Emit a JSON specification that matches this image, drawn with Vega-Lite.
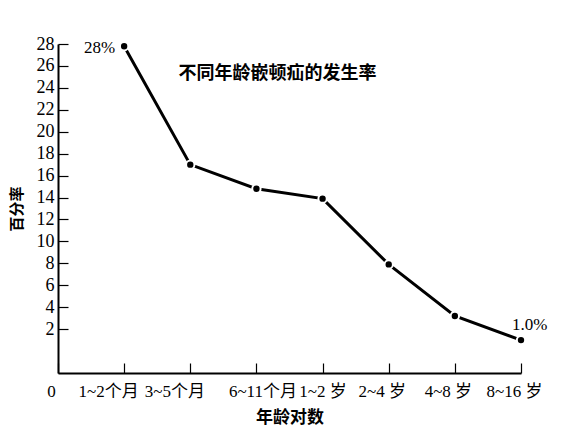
{
  "$schema": "https://vega.github.io/schema/vega-lite/v6.json",
  "width": 463,
  "height": 329,
  "autosize": {"type": "none"},
  "padding": {"left": 58, "top": 44, "right": 62, "bottom": 58},
  "background": "white",
  "config": {
    "view": {"stroke": null},
    "font": "'Liberation Serif', 'Noto Sans CJK SC', serif",
    "axis": {"grid": false, "domainColor": "black", "domainWidth": 2, "tickColor": "black", "tickWidth": 1.2, "labelColor": "black", "titleColor": "black", "labelFont": "'Liberation Serif', 'Noto Sans CJK SC', serif", "titleFont": "'Noto Sans CJK SC'"}
  },
  "datasets": {
    "rates": [
      {"i": 1, "group": "1~2个月", "rate": 27.8, "note": "28%"},
      {"i": 2, "group": "3~5个月", "rate": 17.0, "note": ""},
      {"i": 3, "group": "6~11个月", "rate": 14.8, "note": ""},
      {"i": 4, "group": "1~2 岁", "rate": 13.9, "note": ""},
      {"i": 5, "group": "2~4 岁", "rate": 7.9, "note": ""},
      {"i": 6, "group": "4~8 岁", "rate": 3.2, "note": ""},
      {"i": 7, "group": "8~16 岁", "rate": 1.0, "note": "1.0%"}
    ]
  },
  "data": {"name": "rates"},
  "encoding": {
    "x": {
      "field": "i", "type": "quantitative",
      "scale": {"domain": [0, 7], "nice": false, "zero": false},
      "axis": {
        "title": "年龄对数", "titleFontSize": 17, "titleFontWeight": "bold", "titlePadding": 10,
        "values": [0, 1, 2, 3, 4, 5, 6, 7],
        "labelExpr": "['0','1~2个月','3~5个月','6~11个月','1~2 岁','2~4 岁','4~8 岁','8~16 岁'][datum.value]",
        "labelFontSize": 17, "labelOverlap": false, "labelFlush": false,
        "labelOffset": {"condition": [{"test": "datum.value == 3", "value": 6}, {"test": "datum.value == 4", "value": 0}, {"test": "datum.value == 1 || datum.value == 2", "value": -16}], "value": -7},
        "tickSize": -10, "labelPadding": 20
      }
    },
    "y": {
      "field": "rate", "type": "quantitative",
      "scale": {"domain": [-2, 28], "nice": false, "zero": false},
      "axis": {
        "title": "百分率", "titleFontSize": 15, "titleFontWeight": "bold", "titlePadding": 12,
        "values": [2, 4, 6, 8, 10, 12, 14, 16, 18, 20, 22, 24, 26, 28],
        "labelFontSize": 18, "tickSize": -10, "labelPadding": 14
      }
    }
  },
  "layer": [
    {"mark": {"type": "line", "color": "black", "strokeWidth": 3}},
    {"mark": {"type": "point", "filled": true, "fill": "black", "stroke": "white", "strokeWidth": 2, "size": 70, "opacity": 1}},
    {
      "transform": [{"filter": "datum.i == 1"}],
      "mark": {"type": "text", "align": "right", "baseline": "middle", "dx": -9, "dy": 2, "fontSize": 17, "font": "'Liberation Serif', serif"},
      "encoding": {"text": {"field": "note"}}
    },
    {
      "transform": [{"filter": "datum.i == 7"}],
      "mark": {"type": "text", "align": "left", "baseline": "middle", "dx": -9, "dy": -15, "fontSize": 17, "font": "'Liberation Serif', serif"},
      "encoding": {"text": {"field": "note"}}
    },
    {
      "data": {"values": [{"x": 1.82, "y": 25.3, "t": "不同年龄嵌顿疝的发生率"}]},
      "mark": {"type": "text", "align": "left", "baseline": "middle", "fontSize": 18, "fontWeight": "bold", "font": "'Noto Sans CJK SC'"},
      "encoding": {
        "x": {"field": "x", "type": "quantitative"},
        "y": {"field": "y", "type": "quantitative"},
        "text": {"field": "t"}
      }
    }
  ]
}
